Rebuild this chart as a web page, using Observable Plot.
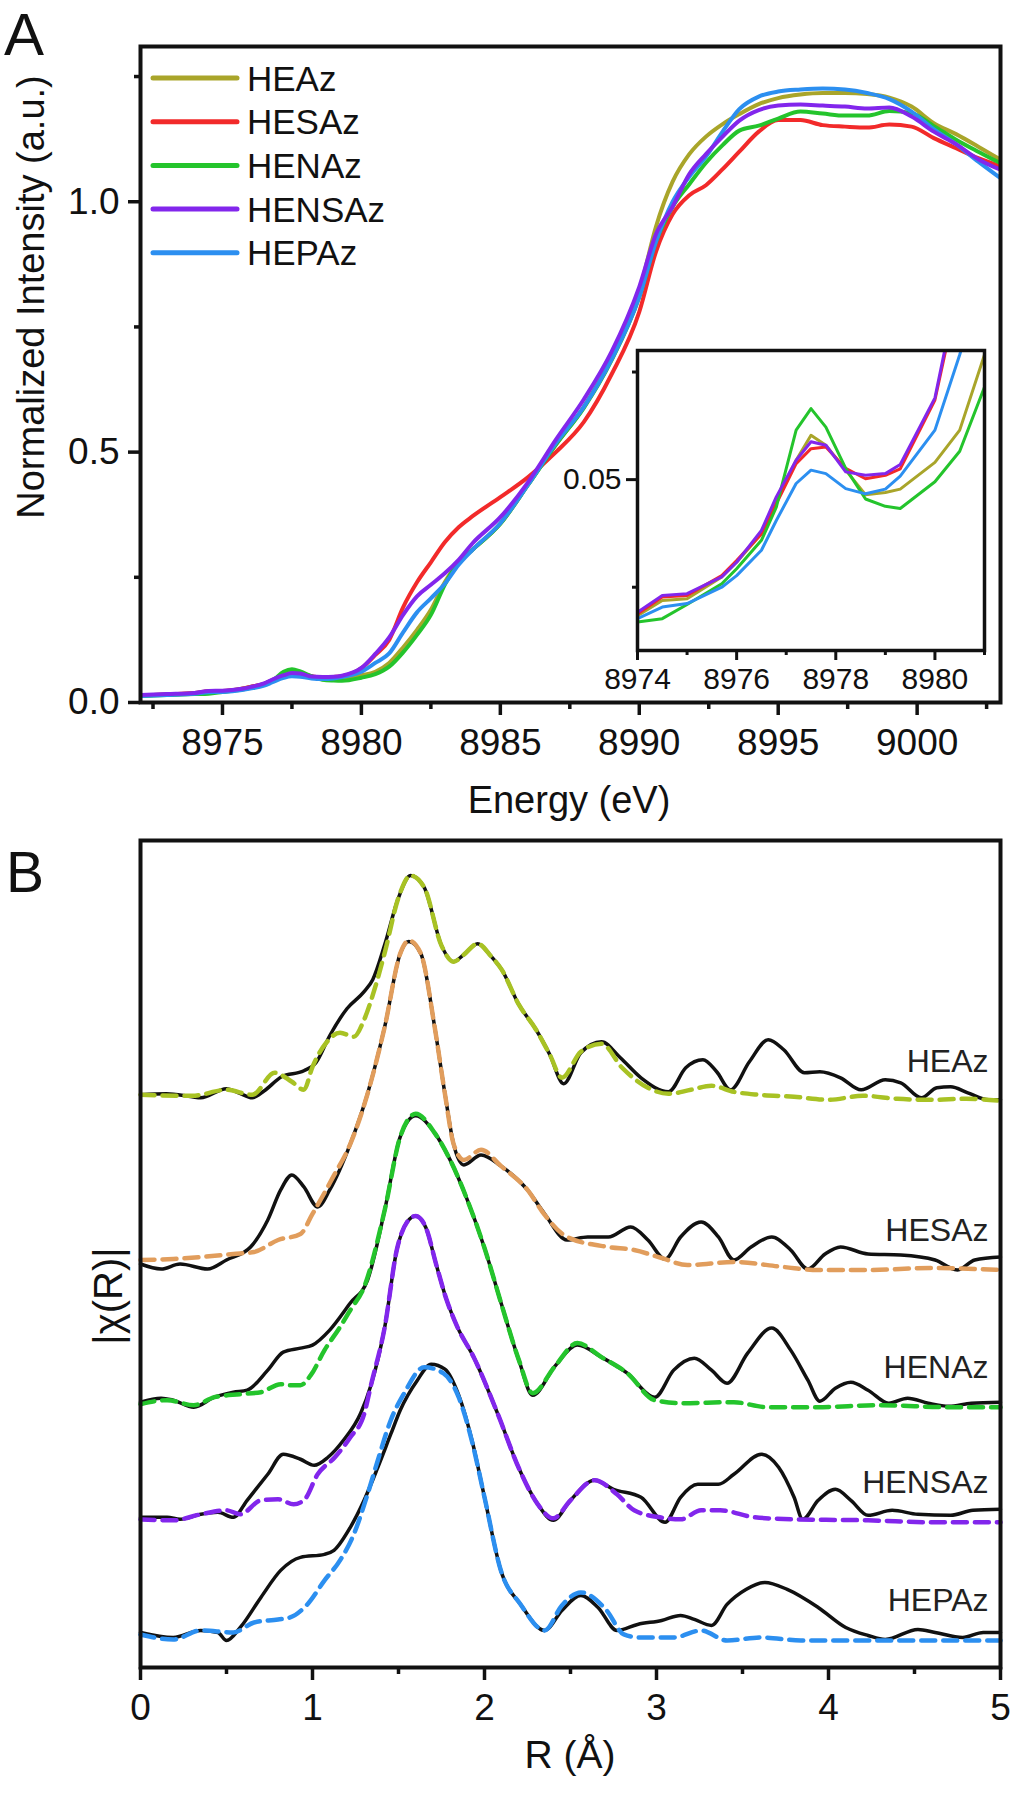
<!DOCTYPE html>
<html><head><meta charset="utf-8">
<script src="https://cdn.jsdelivr.net/npm/d3@7"></script>
<script src="https://cdn.jsdelivr.net/npm/@observablehq/plot@0.6"></script>
<style>
html,body{margin:0;padding:0;background:#fff;}
#fig{position:relative;width:1015px;height:1800px;background:#fff;overflow:hidden;}
#fig svg{position:absolute;}
</style></head><body><div id="fig"></div>
<script>
// ---------- Panel A: Cu K-edge XANES ----------
const sampleNames = ["HEAz", "HESAz", "HENAz", "HENSAz", "HEPAz"];
const xanesColors = ["#a9a52a", "#f22a2a", "#24c42c", "#8226ec", "#2c8ff0"];
const fitColors   = ["#a8c224", "#e19d5c", "#24c42c", "#8226ec", "#2c8ff0"];

const energy = [8972, 8973, 8974, 8974.5, 8975, 8975.7, 8976, 8976.5, 8976.8, 8977.2, 8977.5, 8977.8, 8978.2, 8978.6, 8979, 8979.3, 8980, 8980.5, 8981, 8981.5, 8982, 8982.5, 8983, 8983.5, 8984, 8985, 8986, 8987, 8988, 8989, 8990, 8990.6, 8991.2, 8991.8, 8992.4, 8993, 8993.6, 8994.3, 8995, 8995.8, 8996.6, 8997.4, 8998.2, 8999, 8999.8, 9000.6, 9001.4, 9002.2, 9003];

const xanesHEAz = [0.014, 0.016, 0.0184, 0.0219, 0.0223, 0.0274, 0.0308, 0.0374, 0.0452, 0.0545, 0.0603, 0.058, 0.0522, 0.0465, 0.047, 0.0478, 0.054, 0.0615, 0.079, 0.11, 0.145, 0.185, 0.24, 0.28, 0.305, 0.357, 0.435, 0.515, 0.59, 0.688, 0.82, 0.95, 1.04, 1.095, 1.13, 1.155, 1.175, 1.195, 1.207, 1.214, 1.217, 1.217, 1.215, 1.208, 1.19, 1.157, 1.135, 1.11, 1.084];
const xanesHESAz = [0.014, 0.016, 0.0188, 0.0227, 0.0231, 0.0277, 0.0312, 0.0374, 0.0444, 0.0537, 0.0572, 0.0576, 0.0526, 0.0502, 0.051, 0.0525, 0.0685, 0.095, 0.125, 0.19, 0.24, 0.28, 0.32, 0.35, 0.372, 0.41, 0.45, 0.50, 0.56, 0.655, 0.78, 0.90, 0.975, 1.013, 1.033, 1.065, 1.10, 1.14, 1.163, 1.163, 1.153, 1.15, 1.148, 1.154, 1.15, 1.127, 1.107, 1.087, 1.071];
const xanesHENAz = [0.013, 0.015, 0.0169, 0.0177, 0.021, 0.0258, 0.0293, 0.0359, 0.0436, 0.0615, 0.0665, 0.0622, 0.0526, 0.0455, 0.0438, 0.0433, 0.0495, 0.0566, 0.0715, 0.10, 0.135, 0.175, 0.235, 0.28, 0.305, 0.357, 0.435, 0.515, 0.588, 0.683, 0.81, 0.92, 0.99, 1.035, 1.078, 1.113, 1.142, 1.152, 1.166, 1.18, 1.176, 1.172, 1.172, 1.181, 1.177, 1.151, 1.124, 1.10, 1.077];
const xanesHENSAz = [0.015, 0.017, 0.0192, 0.0231, 0.0235, 0.0274, 0.0308, 0.0382, 0.046, 0.0545, 0.0588, 0.058, 0.0518, 0.051, 0.0514, 0.0535, 0.069, 0.097, 0.13, 0.175, 0.212, 0.235, 0.258, 0.285, 0.318, 0.37, 0.44, 0.525, 0.605, 0.70, 0.83, 0.935, 0.99, 1.055, 1.095, 1.13, 1.162, 1.183, 1.192, 1.194, 1.192, 1.19, 1.186, 1.188, 1.17, 1.14, 1.115, 1.085, 1.064];
const xanesHEPAz = [0.013, 0.015, 0.0177, 0.0204, 0.0212, 0.025, 0.0277, 0.0336, 0.0405, 0.0491, 0.0522, 0.0514, 0.0479, 0.0467, 0.0478, 0.0508, 0.0615, 0.079, 0.098, 0.14, 0.18, 0.208, 0.237, 0.275, 0.305, 0.358, 0.435, 0.518, 0.59, 0.685, 0.81, 0.92, 1.0, 1.05, 1.09, 1.14, 1.185, 1.21, 1.22, 1.224, 1.226, 1.224, 1.217, 1.205, 1.18, 1.145, 1.115, 1.08, 1.047];

const xMajorA = [8975, 8980, 8985, 8990, 8995, 9000];
const xMinorA = [8972.5, 8977.5, 8982.5, 8987.5, 8992.5, 8997.5, 9002.5];
const yMajorA = [0, 0.5, 1.0];
const yMinorA = [0.25, 0.75, 1.25];
const xMajorInset = [8974, 8976, 8978, 8980];
const xMinorInset = [8975, 8977, 8979, 8981];
const yMajorInset = [0.05];
const yMinorInset = [0.025, 0.075];

// ---------- Panel B: FT-EXAFS |chi(R)| (arb. units, stacked as in the figure) ----------
const heazExp = [[0,5.72],[0.15,5.73],[0.3,5.70],[0.35,5.69],[0.5,5.78],[0.57,5.74],[0.65,5.69],[0.72,5.76],[0.82,5.90],[0.95,5.96],[1.02,6.04],[1.1,6.31],[1.2,6.58],[1.3,6.75],[1.35,6.87],[1.42,7.22],[1.5,7.69],[1.57,7.91],[1.65,7.79],[1.75,7.21],[1.82,7.05],[1.88,7.12],[1.96,7.23],[2.04,7.10],[2.1,6.97],[2.2,6.62],[2.3,6.37],[2.38,6.12],[2.46,5.83],[2.56,6.14],[2.68,6.25],[2.79,6.09],[2.91,5.89],[3.07,5.75],[3.17,5.99],[3.27,6.07],[3.35,5.95],[3.43,5.77],[3.54,6.05],[3.65,6.27],[3.74,6.17],[3.86,5.94],[3.95,5.95],[4.07,5.89],[4.19,5.77],[4.33,5.87],[4.42,5.84],[4.54,5.69],[4.63,5.79],[4.71,5.80],[4.81,5.74],[4.93,5.67],[5.0,5.67]];
const heazFit = [[0,5.72],[0.3,5.71],[0.5,5.77],[0.65,5.72],[0.78,5.94],[0.88,5.85],[0.95,5.77],[1.0,6.0],[1.08,6.24],[1.16,6.34],[1.24,6.30],[1.3,6.47],[1.36,6.77],[1.42,7.14],[1.5,7.69],[1.57,7.91],[1.65,7.79],[1.75,7.21],[1.82,7.05],[1.88,7.12],[1.96,7.23],[2.04,7.10],[2.1,6.97],[2.2,6.62],[2.3,6.37],[2.38,6.12],[2.45,5.89],[2.56,6.15],[2.68,6.23],[2.8,5.99],[2.95,5.79],[3.07,5.73],[3.2,5.77],[3.32,5.81],[3.45,5.75],[3.6,5.72],[3.8,5.70],[4.0,5.67],[4.2,5.71],[4.4,5.68],[4.6,5.67],[4.8,5.68],[5.0,5.66]];
const hesazExp = [[0,4.03],[0.12,3.98],[0.23,4.03],[0.39,3.98],[0.5,4.07],[0.64,4.20],[0.74,4.47],[0.815,4.77],[0.88,4.92],[0.95,4.80],[1.03,4.60],[1.1,4.77],[1.22,5.23],[1.32,5.73],[1.42,6.40],[1.51,7.13],[1.56,7.25],[1.63,7.13],[1.71,6.40],[1.77,5.73],[1.82,5.23],[1.88,5.02],[1.98,5.12],[2.095,5.01],[2.25,4.77],[2.35,4.53],[2.48,4.27],[2.6,4.30],[2.72,4.30],[2.85,4.40],[2.95,4.27],[3.05,4.08],[3.14,4.30],[3.26,4.45],[3.36,4.30],[3.45,4.07],[3.55,4.20],[3.67,4.30],[3.78,4.17],[3.88,3.98],[3.98,4.13],[4.07,4.20],[4.23,4.13],[4.42,4.12],[4.62,4.07],[4.75,3.97],[4.85,4.07],[5.0,4.10]];
const hesazFit = [[0,4.07],[0.19,4.08],[0.54,4.13],[0.66,4.15],[0.8,4.27],[0.93,4.33],[1.0,4.53],[1.12,4.90],[1.22,5.23],[1.32,5.73],[1.42,6.40],[1.51,7.13],[1.56,7.26],[1.63,7.13],[1.71,6.40],[1.77,5.73],[1.82,5.23],[1.88,5.07],[1.98,5.17],[2.095,5.01],[2.25,4.77],[2.35,4.52],[2.48,4.30],[2.72,4.20],[2.87,4.17],[3.03,4.09],[3.18,4.02],[3.45,4.05],[3.74,4.00],[3.94,3.97],[4.23,3.97],[4.6,3.99],[5.0,3.97]];
const henazExp = [[0,2.65],[0.12,2.69],[0.19,2.67],[0.31,2.60],[0.43,2.70],[0.54,2.75],[0.62,2.77],[0.74,2.97],[0.83,3.15],[0.93,3.19],[1.0,3.22],[1.1,3.37],[1.22,3.64],[1.32,3.87],[1.42,4.57],[1.51,5.30],[1.6,5.51],[1.71,5.34],[1.8,5.07],[1.9,4.67],[2.0,4.19],[2.1,3.62],[2.2,3.07],[2.28,2.72],[2.41,3.01],[2.54,3.22],[2.68,3.10],[2.83,2.94],[2.99,2.70],[3.1,2.97],[3.22,3.09],[3.32,2.97],[3.41,2.84],[3.53,3.14],[3.67,3.39],[3.78,3.17],[3.88,2.87],[3.95,2.66],[4.04,2.79],[4.13,2.85],[4.23,2.77],[4.35,2.64],[4.46,2.69],[4.58,2.64],[4.7,2.61],[4.83,2.64],[5.0,2.65]];
const henazFit = [[0,2.63],[0.155,2.67],[0.31,2.62],[0.43,2.70],[0.58,2.73],[0.7,2.75],[0.815,2.83],[0.87,2.82],[0.93,2.82],[0.99,2.92],[1.07,3.17],[1.16,3.40],[1.22,3.57],[1.3,3.80],[1.42,4.57],[1.51,5.30],[1.6,5.53],[1.71,5.34],[1.8,5.07],[1.9,4.67],[2.0,4.19],[2.1,3.62],[2.2,3.07],[2.28,2.74],[2.41,3.01],[2.54,3.24],[2.68,3.10],[2.83,2.94],[2.99,2.67],[3.14,2.64],[3.45,2.65],[3.64,2.60],[3.93,2.60],[4.3,2.62],[4.7,2.60],[5.0,2.60]];
const hensazExp = [[0,1.50],[0.155,1.50],[0.23,1.48],[0.35,1.53],[0.45,1.55],[0.54,1.50],[0.62,1.67],[0.74,1.93],[0.83,2.13],[0.93,2.08],[1.01,2.02],[1.09,2.10],[1.18,2.27],[1.28,2.54],[1.34,2.82],[1.42,3.40],[1.49,4.17],[1.55,4.45],[1.6,4.51],[1.66,4.39],[1.72,4.02],[1.78,3.67],[1.84,3.41],[1.94,3.09],[2.08,2.52],[2.2,1.99],[2.31,1.63],[2.4,1.47],[2.5,1.67],[2.64,1.87],[2.75,1.78],[2.91,1.70],[3.05,1.45],[3.14,1.70],[3.24,1.83],[3.36,1.83],[3.45,1.93],[3.61,2.13],[3.71,2.00],[3.8,1.70],[3.85,1.48],[3.94,1.67],[4.04,1.78],[4.13,1.67],[4.23,1.52],[4.37,1.57],[4.52,1.53],[4.71,1.52],[4.84,1.57],[5.0,1.58]];
const hensazFit = [[0,1.48],[0.19,1.47],[0.35,1.53],[0.5,1.57],[0.58,1.53],[0.7,1.67],[0.8,1.68],[0.89,1.63],[0.95,1.67],[1.03,1.93],[1.13,2.10],[1.22,2.30],[1.3,2.53],[1.34,2.82],[1.42,3.40],[1.49,4.17],[1.55,4.45],[1.6,4.51],[1.66,4.39],[1.72,4.02],[1.78,3.67],[1.84,3.41],[1.94,3.09],[2.08,2.52],[2.2,1.99],[2.31,1.63],[2.4,1.49],[2.5,1.67],[2.64,1.87],[2.77,1.73],[2.87,1.57],[3.02,1.50],[3.14,1.48],[3.26,1.57],[3.37,1.57],[3.57,1.50],[3.8,1.48],[4.23,1.47],[4.62,1.45],[5.0,1.45]];
const hepazExp = [[0,0.35],[0.19,0.30],[0.35,0.37],[0.45,0.35],[0.5,0.27],[0.58,0.40],[0.7,0.70],[0.815,0.97],[0.93,1.10],[1.07,1.13],[1.125,1.17],[1.22,1.40],[1.3,1.67],[1.38,2.00],[1.455,2.33],[1.51,2.57],[1.61,2.87],[1.69,3.03],[1.77,2.98],[1.85,2.72],[1.93,2.25],[2.0,1.70],[2.095,0.97],[2.21,0.63],[2.35,0.37],[2.45,0.57],[2.56,0.72],[2.66,0.60],[2.77,0.37],[2.89,0.43],[3.03,0.47],[3.14,0.52],[3.22,0.48],[3.32,0.42],[3.41,0.63],[3.52,0.78],[3.63,0.85],[3.76,0.78],[3.94,0.60],[4.1,0.40],[4.23,0.32],[4.33,0.28],[4.52,0.38],[4.62,0.35],[4.78,0.30],[4.9,0.35],[5.0,0.35]];
const hepazFit = [[0,0.33],[0.19,0.28],[0.35,0.37],[0.54,0.35],[0.66,0.45],[0.8,0.48],[0.87,0.50],[0.97,0.63],[1.07,0.87],[1.16,1.07],[1.24,1.33],[1.32,1.73],[1.38,2.07],[1.455,2.47],[1.53,2.73],[1.65,3.00],[1.76,2.94],[1.85,2.70],[1.93,2.24],[2.0,1.70],[2.095,0.97],[2.21,0.63],[2.35,0.37],[2.45,0.62],[2.56,0.75],[2.71,0.57],[2.81,0.33],[2.9,0.30],[3.1,0.30],[3.26,0.37],[3.41,0.27],[3.61,0.30],[3.84,0.27],[4.2,0.27],[4.6,0.27],[5.0,0.27]];

const xMajorB = [0, 1, 2, 3, 4, 5];
const xMinorB = [0.5, 1.5, 2.5, 3.5, 4.5];

// ---------- build tidy tables ----------
const FONT = '"Liberation Sans", Arial, Helvetica, sans-serif';
const xanesSeries = [xanesHEAz, xanesHESAz, xanesHENAz, xanesHENSAz, xanesHEPAz];
const drawOrder = [0, 1, 2, 4, 3]; // purple drawn last (on top)
const xanesRows = drawOrder.flatMap(i => energy.map((e, j) => ({name: sampleNames[i], e, v: xanesSeries[i][j]})));
const insetRows = xanesRows.filter(d => d.e >= 8973.5 && d.e <= 8981.5);

const expSeries = [heazExp, hesazExp, henazExp, hensazExp, hepazExp];
const fitSeries = [heazFit, hesazFit, henazFit, hensazFit, hepazFit];
const toRows = (arr, name) => arr.map(([r, v]) => ({name, r, v}));
const expRows = sampleNames.flatMap((n, i) => toRows(expSeries[i], n));
const fitRows = sampleNames.flatMap((n, i) => toRows(fitSeries[i], n));
const labelRows = sampleNames.map((n, i) => ({name: n, r: 5, v: fitSeries[i][fitSeries[i].length - 1][1]}));

const fig = document.getElementById("fig");
const blank = () => "";

// ---------- Panel A main ----------
const plotA = Plot.plot({
  width: 1015, height: 830,
  marginTop: 46, marginRight: 15, marginBottom: 128, marginLeft: 140,
  style: {fontFamily: FONT, color: "#111", background: "transparent", overflow: "visible"},
  x: {domain: [8972.05, 9003]},
  y: {domain: [0, 1.31]},
  color: {domain: sampleNames, range: xanesColors},
  marks: [
    Plot.line(xanesRows, {x: "e", y: "v", z: "name", stroke: "name", strokeWidth: 4, curve: "monotone-x", clip: true}),
    Plot.frame({stroke: "#111", strokeWidth: 4}),
    Plot.axisX({ticks: xMajorA, tickSize: 13, tickPadding: 13, strokeWidth: 3.5, fontSize: 37, tickFormat: d => String(d), label: null}),
    Plot.axisX({ticks: xMinorA, tickSize: 7, strokeWidth: 3.5, tickFormat: blank, label: null}),
    Plot.axisY({ticks: yMajorA, tickSize: 12, tickPadding: 9, strokeWidth: 3.5, fontSize: 37, tickFormat: d3.format(".1f"), label: null}),
    Plot.axisY({ticks: yMinorA, tickSize: 6, strokeWidth: 3.5, tickFormat: blank, label: null})
  ]
});
plotA.style.left = "0px"; plotA.style.top = "0px";
fig.appendChild(plotA);

// ---------- Panel A inset ----------
const plotInset = Plot.plot({
  width: 437, height: 360,
  marginTop: 10, marginRight: 10, marginBottom: 50, marginLeft: 80,
  style: {fontFamily: FONT, color: "#111", background: "transparent", overflow: "visible"},
  x: {domain: [8974, 8981]},
  y: {domain: [0.0103, 0.080]},
  color: {domain: sampleNames, range: xanesColors},
  marks: [
    Plot.line(insetRows, {x: "e", y: "v", z: "name", stroke: "name", strokeWidth: 3, curve: "linear", clip: true}),
    Plot.frame({stroke: "#111", strokeWidth: 3.5}),
    Plot.axisX({ticks: xMajorInset, tickSize: 10, tickPadding: 7, strokeWidth: 3, fontSize: 30, tickFormat: d => String(d), label: null}),
    Plot.axisX({ticks: xMinorInset, tickSize: 5, strokeWidth: 3, tickFormat: blank, label: null}),
    Plot.axisY({ticks: yMajorInset, tickSize: 11, tickPadding: 5, strokeWidth: 3, fontSize: 30, tickFormat: d3.format(".2f"), label: null}),
    Plot.axisY({ticks: yMinorInset, tickSize: 5, strokeWidth: 3, tickFormat: blank, label: null})
  ]
});
plotInset.style.left = "557px"; plotInset.style.top = "340px";
fig.appendChild(plotInset);

// ---------- Panel B ----------
const plotB = Plot.plot({
  width: 1015, height: 970,
  marginTop: 10, marginRight: 15, marginBottom: 133, marginLeft: 140,
  style: {fontFamily: FONT, color: "#111", background: "transparent", overflow: "visible"},
  x: {domain: [0, 5]},
  y: {domain: [0, 8.26], axis: null},
  color: {domain: sampleNames, range: fitColors},
  marks: [
    Plot.line(expRows, {x: "r", y: "v", z: "name", stroke: "#111", strokeWidth: 3.5, curve: "monotone-x"}),
    Plot.line(fitRows, {x: "r", y: "v", z: "name", stroke: "name", strokeWidth: 4.5, strokeDasharray: "14,8", curve: "monotone-x"}),
    Plot.text(labelRows, {x: "r", y: "v", text: "name", textAnchor: "end", lineAnchor: "bottom", dx: -12, dy: -29, fontSize: 32, fill: "#222"}),
    Plot.frame({stroke: "#111", strokeWidth: 4}),
    Plot.axisX({ticks: xMajorB, tickSize: 13, tickPadding: 13, strokeWidth: 3.5, fontSize: 37, tickFormat: d => String(d), label: null}),
    Plot.axisX({ticks: xMinorB, tickSize: 7, strokeWidth: 3.5, tickFormat: blank, label: null})
  ]
});
plotB.style.left = "0px"; plotB.style.top = "830px";
fig.appendChild(plotB);

// ---------- titles, panel letters, legend ----------
const ov = d3.select(fig).append("svg")
  .attr("width", 1015).attr("height", 1800)
  .style("left", "0px").style("top", "0px").style("pointer-events", "none")
  .style("font-family", FONT).attr("fill", "#111");

ov.append("text").attr("x", 4).attr("y", 55).attr("font-size", 60).text("A");
ov.append("text").attr("x", 6).attr("y", 892).attr("font-size", 57).text("B");
ov.append("text").attr("transform", "translate(44,297) rotate(-90)").attr("text-anchor", "middle").attr("font-size", 38).text("Normalized Intensity (a.u.)");
ov.append("text").attr("x", 569).attr("y", 813).attr("text-anchor", "middle").attr("font-size", 38).text("Energy (eV)");
ov.append("text").attr("transform", "translate(122,1296) rotate(-90)").attr("text-anchor", "middle").attr("font-size", 40).text("|\u03C7(R)|");
ov.append("text").attr("x", 570).attr("y", 1768).attr("text-anchor", "middle").attr("font-size", 39).text("R (\u00C5)");

const leg = ov.append("g");
sampleNames.forEach((n, i) => {
  const y = 78 + i * 43.7;
  leg.append("line").attr("x1", 153).attr("x2", 237).attr("y1", y).attr("y2", y)
    .attr("stroke", xanesColors[i]).attr("stroke-width", 5).attr("stroke-linecap", "round");
  leg.append("text").attr("x", 247).attr("y", y + 12.5).attr("font-size", 35).text(n);
});
</script>
</body></html>
